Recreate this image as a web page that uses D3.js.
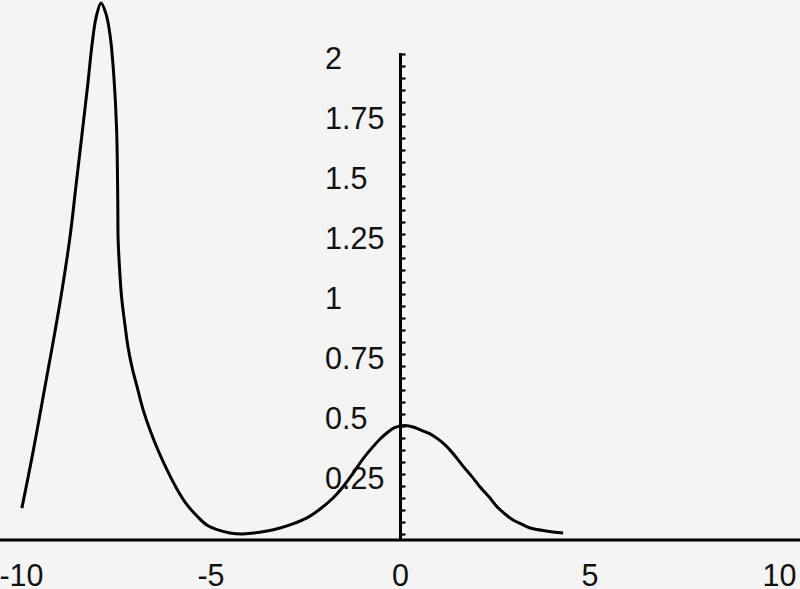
<!DOCTYPE html>
<html>
<head>
<meta charset="utf-8">
<script src="https://cdn.jsdelivr.net/npm/d3@7/dist/d3.min.js"></script>
<style>
  html, body { margin: 0; padding: 0; background: #f4f4f4; }
  svg { display: block; }
  text { font-family: "Liberation Sans", Arial, sans-serif; fill: #111; }
</style>
</head>
<body>
<svg id="chart" width="800" height="589"></svg>
<script>
// Data
const curveX = [-9.99, -9.70, -9.43, -9.17, -8.93, -8.72, -8.56, -8.40, -8.25, -8.14,
                -8.03, -7.90, -7.77, -7.66, -7.56, -7.49, -7.46, -7.45, -7.41, -7.36,
                -7.27, -7.19, -7.08, -6.95, -6.79, -6.61, -6.40, -6.16, -5.90, -5.63,
                -5.37, -5.11, -4.82, -4.50, -4.18, -3.89, -3.52, -3.18, -2.84, -2.47,
                -2.12, -1.78, -1.52, -1.25, -0.99, -0.73, -0.54, -0.36, -0.17, -0.01,
                0.12, 0.33, 0.54, 0.78, 1.02, 1.23, 1.44, 1.65, 1.89, 2.10,
                2.34, 2.55, 2.76, 2.97, 3.18, 3.42, 3.84, 4.29];
const curveY = [0.108, 0.338, 0.571, 0.796, 1.017, 1.238, 1.454, 1.671, 1.875, 2.038,
                2.154, 2.213, 2.167, 2.075, 1.900, 1.683, 1.392, 1.225, 1.100, 0.988,
                0.871, 0.779, 0.692, 0.613, 0.517, 0.433, 0.350, 0.267, 0.188, 0.121,
                0.075, 0.0375, 0.017, 0.004, 0.000, 0.004, 0.0125, 0.025, 0.042, 0.067,
                0.104, 0.150, 0.196, 0.254, 0.313, 0.363, 0.396, 0.421, 0.442, 0.450,
                0.452, 0.446, 0.433, 0.417, 0.392, 0.363, 0.325, 0.283, 0.238, 0.196,
                0.154, 0.113, 0.083, 0.058, 0.042, 0.025, 0.0125, 0.004];
const xTickValues = [-10, -5, 0, 5, 10];
const xTickLabels = ["-10", "-5", "0", "5", "10"];
const yTickValues = [0.25, 0.5, 0.75, 1, 1.25, 1.5, 1.75, 2];
const yTickLabels = ["0.25", "0.5", "0.75", "1", "1.25", "1.5", "1.75", "2"];
const yMinorStep = 0.05;

const svg = d3.select("#chart");
const x = d3.scaleLinear().domain([-10, 10]).range([21.5, 779.5]);
const y = d3.scaleLinear().domain([0, 2]).range([534, 54]);

// x axis line (full width)
const axisY = 540;
svg.append("line")
  .attr("x1", 0).attr("x2", 800)
  .attr("y1", axisY).attr("y2", axisY)
  .attr("stroke", "#000").attr("stroke-width", 3);

// x labels
svg.append("g").selectAll("text").data(xTickValues).join("text")
  .attr("x", d => x(d))
  .attr("y", 586)
  .attr("text-anchor", "middle")
  .attr("font-size", 30.5)
  .text((d, i) => xTickLabels[i]);

// y axis line
const x0 = x(0);
svg.append("line")
  .attr("x1", x0).attr("x2", x0)
  .attr("y1", y(2) - 1).attr("y2", axisY)
  .attr("stroke", "#000").attr("stroke-width", 3);

// minor ticks on the right side
const minorTicks = d3.range(0, 2 + 1e-9, yMinorStep);
const yAxis = d3.axisRight(y).tickValues(minorTicks).tickSize(5).tickFormat("");
const gy = svg.append("g").attr("transform", `translate(${x0},0)`).call(yAxis);
gy.select(".domain").remove();
gy.selectAll(".tick line").attr("stroke", "#000").attr("stroke-width", 2.2);

// y labels (left aligned)
svg.append("g").selectAll("text").data(yTickValues).join("text")
  .attr("x", 325)
  .attr("y", d => y(d) + 4)
  .attr("dy", "0.35em")
  .attr("text-anchor", "start")
  .attr("font-size", 30.5)
  .text((d, i) => yTickLabels[i]);

// curve
const pts = curveX.map((v, i) => [v, curveY[i]]);
const line = d3.line()
  .x(d => x(d[0]))
  .y(d => y(d[1]))
  .curve(d3.curveCatmullRom.alpha(0.5));
svg.append("path")
  .datum(pts)
  .attr("d", line)
  .attr("fill", "none")
  .attr("stroke", "#000")
  .attr("stroke-width", 3)
  .attr("stroke-linejoin", "round");
</script>
</body>
</html>
